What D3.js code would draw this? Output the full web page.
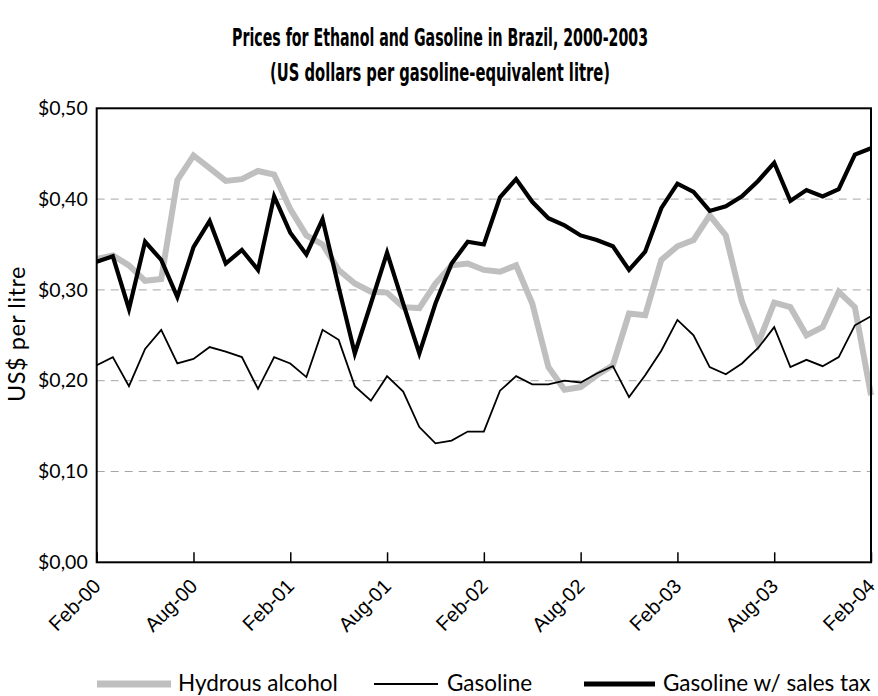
<!DOCTYPE html>
<html>
<head>
<meta charset="utf-8">
<script src="https://cdn.jsdelivr.net/npm/d3@7"></script>
<style>
  html, body { margin: 0; padding: 0; background: #fff; }
  svg { display: block; }
</style>
</head>
<body>
<svg id="chart" width="878" height="696"></svg>
<script>
const months = [
  "Feb-00","Mar-00","Apr-00","May-00","Jun-00","Jul-00","Aug-00","Sep-00","Oct-00","Nov-00","Dec-00","Jan-01",
  "Feb-01","Mar-01","Apr-01","May-01","Jun-01","Jul-01","Aug-01","Sep-01","Oct-01","Nov-01","Dec-01","Jan-02",
  "Feb-02","Mar-02","Apr-02","May-02","Jun-02","Jul-02","Aug-02","Sep-02","Oct-02","Nov-02","Dec-02","Jan-03",
  "Feb-03","Mar-03","Apr-03","May-03","Jun-03","Jul-03","Aug-03","Sep-03","Oct-03","Nov-03","Dec-03","Jan-04",
  "Feb-04"
];
const tickLabels = ["Feb-00","Aug-00","Feb-01","Aug-01","Feb-02","Aug-02","Feb-03","Aug-03","Feb-04"];
const yTicks = [0, 0.1, 0.2, 0.3, 0.4, 0.5];

const hydrousAlcohol = [
  0.334,0.338,0.327,0.310,0.312,0.421,0.448,0.434,0.420,0.422,0.431,0.427,
  0.389,0.360,0.350,0.322,0.307,0.298,0.297,0.281,0.280,0.307,0.327,0.329,
  0.322,0.320,0.327,0.285,0.215,0.190,0.193,0.206,0.217,0.274,0.272,0.333,
  0.348,0.355,0.382,0.360,0.287,0.241,0.286,0.281,0.250,0.259,0.298,0.281,
  0.184
];
const gasoline = [
  0.217,0.226,0.194,0.235,0.256,0.219,0.224,0.237,0.232,0.226,0.191,0.226,
  0.219,0.204,0.256,0.245,0.194,0.178,0.205,0.188,0.149,0.131,0.134,0.144,
  0.144,0.189,0.205,0.196,0.196,0.200,0.198,0.208,0.216,0.182,0.206,0.233,
  0.267,0.250,0.215,0.207,0.219,0.236,0.259,0.215,0.223,0.216,0.226,0.261,
  0.271
];
const gasolineTax = [
  0.331,0.337,0.279,0.353,0.333,0.292,0.347,0.376,0.329,0.344,0.322,0.403,
  0.363,0.339,0.378,0.303,0.230,0.285,0.341,0.285,0.230,0.285,0.329,0.353,
  0.350,0.402,0.422,0.397,0.379,0.371,0.360,0.355,0.348,0.322,0.342,0.390,
  0.417,0.408,0.387,0.392,0.403,0.420,0.440,0.398,0.410,0.403,0.411,0.449,
  0.456
];
const seriesNames = ["Hydrous alcohol", "Gasoline", "Gasoline w/ sales tax"];

const svg = d3.select("#chart");
const W = 878, H = 696;
const m = { left: 96.7, right: 7, top: 108.3, bottom: 133.7 };
const pw = W - m.left - m.right, ph = H - m.top - m.bottom;

const x = d3.scalePoint().domain(months).range([0, pw]);
const y = d3.scaleLinear().domain([0, 0.5]).range([ph, 0]);

const geo = "Lato, 'Open Sans', sans-serif";

// Title
const titleFont = "'Liberation Sans Narrow', 'DejaVu Sans Condensed', 'Liberation Sans', sans-serif";
function fitText(sel, target) {
  const w = sel.node().getComputedTextLength();
  if (Math.abs(w - target) > 2) sel.attr("textLength", target).attr("lengthAdjust", "spacingAndGlyphs");
}
const t1 = svg.append("text").attr("x", 440).attr("y", 46).attr("text-anchor", "middle")
  .attr("font-family", titleFont).attr("font-weight", "bold").attr("font-size", 24).attr("fill", "#000")
  .text("Prices for Ethanol and Gasoline in Brazil, 2000-2003");
fitText(t1, 416);
const t2 = svg.append("text").attr("x", 440).attr("y", 81).attr("text-anchor", "middle")
  .attr("font-family", titleFont).attr("font-weight", "bold").attr("font-size", 24).attr("fill", "#000")
  .text("(US dollars per gasoline-equivalent litre)");
fitText(t2, 340);

const g = svg.append("g").attr("transform", `translate(${m.left},${m.top})`);

// Grid lines
g.append("g").selectAll("line").data(yTicks.filter(d => d > 0 && d < 0.5)).join("line")
  .attr("x1", 0).attr("x2", pw).attr("y1", d => y(d)).attr("y2", d => y(d))
  .attr("stroke", "#a6a6a6").attr("stroke-width", 1).attr("stroke-dasharray", "8,6");

// Y axis labels
const yAxis = d3.axisLeft(y).tickValues(yTicks).tickSize(0).tickPadding(9)
  .tickFormat(d => "$" + d3.format(".2f")(d).replace(".", ","));
const ya = g.append("g").call(yAxis);
ya.select(".domain").remove();
ya.selectAll("text").attr("font-family", geo).attr("font-size", 19.5).attr("fill", "#000");

// X axis ticks (inside)
const xAxis = d3.axisBottom(x).tickValues(tickLabels).tickSize(-10).tickFormat("");
const xa = g.append("g").attr("transform", `translate(0,${ph})`).call(xAxis);
xa.select(".domain").remove();
xa.selectAll("line").attr("stroke", "#000").attr("stroke-width", 1.5);

// X labels rotated
g.append("g").selectAll("text").data(tickLabels).join("text")
  .attr("transform", d => `translate(${x(d) - 5},${ph + 15}) rotate(-45)`)
  .attr("text-anchor", "end").attr("dy", "0.72em")
  .attr("font-family", "'Liberation Sans', Arial, sans-serif").attr("font-size", 20).attr("fill", "#000")
  .text(d => d);

// Lines
const line = d3.line().x((d, i) => x(months[i])).y(d => y(d));
g.append("path").datum(hydrousAlcohol).attr("d", line).attr("fill", "none")
  .attr("stroke", "#bfbfbf").attr("stroke-width", 6).attr("stroke-linejoin", "miter");
g.append("path").datum(gasoline).attr("d", line).attr("fill", "none")
  .attr("stroke", "#000").attr("stroke-width", 1.8).attr("stroke-linejoin", "miter");
g.append("path").datum(gasolineTax).attr("d", line).attr("fill", "none")
  .attr("stroke", "#000").attr("stroke-width", 4.2).attr("stroke-linejoin", "miter");

// Plot frame
g.append("rect").attr("x", 0).attr("y", 0).attr("width", pw).attr("height", ph)
  .attr("fill", "none").attr("stroke", "#000").attr("stroke-width", 2);

// Y axis title
svg.append("text").attr("transform", `translate(17,334) rotate(-90)`)
  .attr("text-anchor", "middle").attr("dy", "0.35em")
  .attr("font-family", geo).attr("font-size", 23.5).attr("letter-spacing", 0.5).attr("fill", "#000")
  .text("US$ per litre");

// Legend
const legend = [
  { name: seriesNames[0], color: "#bfbfbf", w: 7, x0: 97, x1: 171, tx: 178 },
  { name: seriesNames[1], color: "#000", w: 2, x0: 374, x1: 438, tx: 447 },
  { name: seriesNames[2], color: "#000", w: 5, x0: 584, x1: 655, tx: 663 }
];
const lg = svg.append("g");
const ly = 684;
legend.forEach(d => {
  lg.append("line").attr("x1", d.x0).attr("x2", d.x1).attr("y1", ly).attr("y2", ly)
    .attr("stroke", d.color).attr("stroke-width", d.w);
  lg.append("text").attr("x", d.tx).attr("y", ly).attr("dy", "0.32em")
    .attr("font-family", geo).attr("font-size", 22.5).attr("fill", "#000")
    .text(d.name);
});
</script>
</body>
</html>
